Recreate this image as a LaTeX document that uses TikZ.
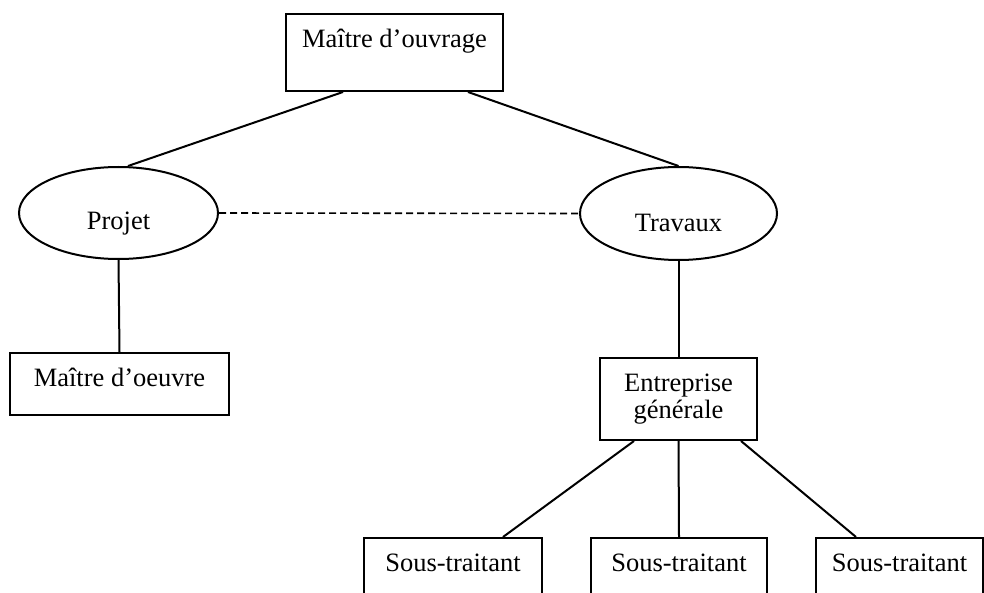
\documentclass[tikz,border=0pt]{standalone}
\usepackage{fontspec}
\setmainfont{Liberation Serif}
\usetikzlibrary{shapes.geometric}
\begin{document}
\fontsize{26.5}{27}\selectfont
\begin{tikzpicture}[x=1pt, y=-1pt,
  box/.style={draw, line width=2pt, rectangle, inner sep=0pt, anchor=north west, align=center},
  oval/.style={draw, line width=2pt, ellipse, inner sep=0pt},
  link/.style={draw, line width=2pt},
  dashlink/.style={draw, line width=1.6pt, dash pattern=on 7pt off 4pt}]
  \useasboundingbox (0,0) rectangle (984,593);
  \fill[white] (0,0) rectangle (984,593);
  \clip (0,0) rectangle (984,593);

  % client at the top
  \node[box, minimum width=217pt, text height=34pt, text depth=43pt] (mo) at (285,13) {Maître d’ouvrage};

  % the two branches: design and works
  \node[oval, minimum width=199pt, minimum height=92pt, text height=38pt, text depth=4pt] (pr) at (118.5,213) {Projet};
  \node[oval, minimum width=197pt, minimum height=93pt, text height=40pt, text depth=4pt] (tr) at (678.5,213.5) {Travaux};

  \node[box, minimum width=219pt, text height=33pt, text depth=29pt] (me) at (9,352) {Maître d’oeuvre};
  \node[box, minimum width=157pt, minimum height=82pt] (eg) at (599,357) {Entreprise\\générale};

  % subcontractors, running off the bottom edge
  \node[box, minimum width=178pt, text height=33pt, text depth=50pt] (st1) at (363,537) {Sous-traitant};
  \node[box, minimum width=176pt, text height=33pt, text depth=50pt] (st2) at (590,537) {Sous-traitant};
  \node[box, minimum width=167pt, text height=33pt, text depth=50pt] (st3) at (815,537) {Sous-traitant};

  % connectors
  \path[link] ([xshift=-51.5pt]mo.south) -- ([xshift=9.5pt]pr.north);
  \path[link] ([xshift=73.5pt]mo.south) -- (tr.north);
  \path[dashlink] (pr.east) -- (tr.west);
  \path[link] (pr.south) -- (me.north);
  \path[link] (tr.south) -- (eg.north);
  \path[link] ([xshift=-44.5pt]eg.south) -- ([xshift=50pt]st1.north);
  \path[link] (eg.south) -- (st2.north);
  \path[link] ([xshift=62.5pt]eg.south) -- ([xshift=-43.5pt]st3.north);
\end{tikzpicture}
\end{document}
